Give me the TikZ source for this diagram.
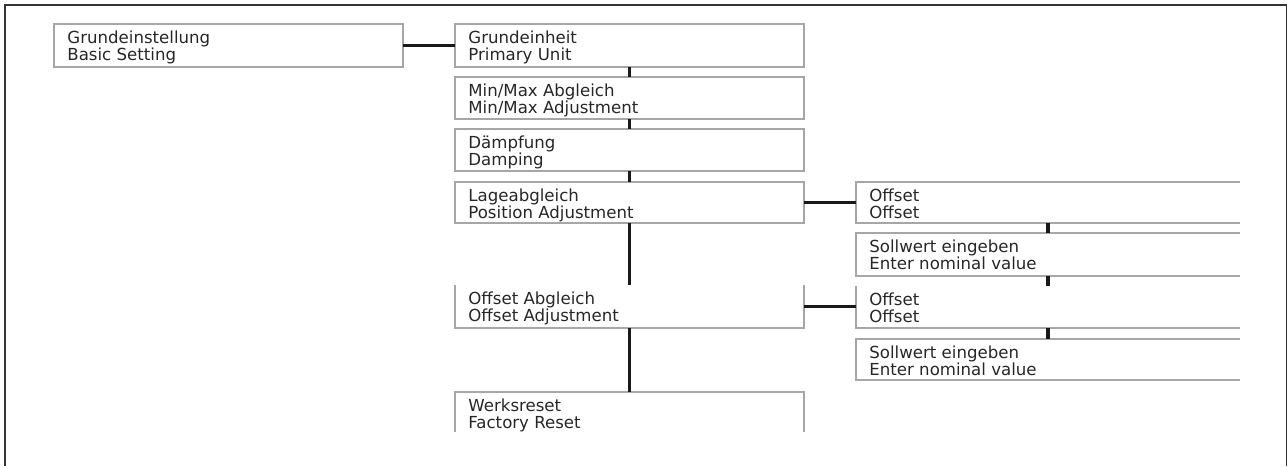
\documentclass[tikz,border=0pt]{standalone}
\usepackage{fontspec}
\setmainfont{DejaVu Sans}
\usetikzlibrary{calc}
\begin{document}
\begin{tikzpicture}[x=0.5pt,y=-0.5pt,
  boxn/.style={rectangle, draw=none, inner sep=0pt, outer sep=0pt, anchor=north west,
    minimum width=#1},
  boxn/.default=174.5pt,
  txt/.style={anchor=north west, inner sep=0pt, align=left, text=black!85,
    font=\fontsize{8.3pt}{8.5pt}\selectfont},
  bline/.style={draw=black!35, line width=0.65pt},
  conn/.style={draw=black!90, line width=1.6pt},
  vconn/.style={draw=black!90, line width=1.9pt},
  frame/.style={draw=black!80, line width=1.35pt}
]
\useasboundingbox (0,0) rectangle (1288,466);
% outer frame (open at the bottom)
\draw[frame] (5,466) -- (5,5) -- (1286.5,5);
\draw[draw=black!80, line width=0.9pt] (1286.5,5) -- (1286.5,466);

% boxes (positions in pixels)
\node[boxn, minimum height=21.5pt] (A) at (54,24) {};
\node[boxn, minimum height=21.5pt] (B) at (455,24) {};
\node[boxn, minimum height=21pt] (C) at (455,77) {};
\node[boxn, minimum height=21pt] (D) at (455,129) {};
\node[boxn, minimum height=20.5pt] (E) at (455,182) {};
\node[boxn, minimum height=21.5pt] (F) at (455,285) {};
\node[boxn, minimum height=20pt] (G) at (455,392) {};
\node[boxn=192pt, minimum height=20.5pt] (H) at (856,182) {};
\node[boxn=192pt, minimum height=21.5pt] (I) at (856,233) {};
\node[boxn=192pt, minimum height=21pt] (J) at (856,286) {};
\node[boxn=192pt, minimum height=20.5pt] (K) at (856,339) {};

% box outlines
\foreach \n in {A,B,C,D,E}
  \draw[bline] (\n.north west) rectangle (\n.south east);
\draw[bline] (F.north west) -- (F.south west) -- (F.south east) -- (F.north east);
\draw[bline] (G.south west) -- (G.north west) -- (G.north east) -- (G.south east);
\foreach \n in {H,I,K}
  \draw[bline] (\n.north east) -- (\n.north west) -- (\n.south west) -- (\n.south east);
\draw[bline] (J.north west) -- (J.south west) -- (J.south east);

% texts
\newcommand{\fl}{\rule{0pt}{6.5pt}}
\node[txt] (At) at ($(A.north west)+(13,6)$) {\fl Grundeinstellung\\Basic Setting};
\node[txt] (Bt) at ($(B.north west)+(13,6)$) {\fl Grundeinheit\\Primary Unit};
\node[txt] (Ct) at ($(C.north west)+(13,6)$) {\fl Min/Max Abgleich\\Min/Max Adjustment};
\node[txt] (Dt) at ($(D.north west)+(13,6)$) {\fl Dämpfung\\Damping};
\node[txt] (Et) at ($(E.north west)+(13,6)$) {\fl Lageabgleich\\Position Adjustment};
\node[txt] (Ft) at ($(F.north west)+(13,6)$) {\fl Offset Abgleich\\Offset Adjustment};
\node[txt] (Gt) at ($(G.north west)+(13,6)$) {\fl Werksreset\\Factory Reset};
\node[txt] (Ht) at ($(H.north west)+(13,6)$) {\fl Offset\\Offset};
\node[txt] (It) at ($(I.north west)+(13,6)$) {\fl Sollwert eingeben\\Enter nominal value};
\node[txt] (Jt) at ($(J.north west)+(13,6)$) {\fl Offset\\Offset};
\node[txt] (Kt) at ($(K.north west)+(13,6)$) {\fl Sollwert eingeben\\Enter nominal value};

% connectors
\draw[conn] (A.east) -- (A.east -| B.west);
\draw[conn] (E.east) -- (E.east -| H.west);
\draw[conn] (F.east) -- (F.east -| J.west);
\draw[vconn] (B.south) -- (C.north);
\draw[vconn] (C.south) -- (D.north);
\draw[vconn] (D.south) -- (E.north);
\draw[vconn] (E.south) -- (F.north);
\draw[vconn] (F.south) -- (G.north);
\draw[vconn] (H.south) -- (I.north);
\draw[vconn] (I.south) -- (J.north);
\draw[vconn] (J.south) -- (K.north);
\end{tikzpicture}
\end{document}
